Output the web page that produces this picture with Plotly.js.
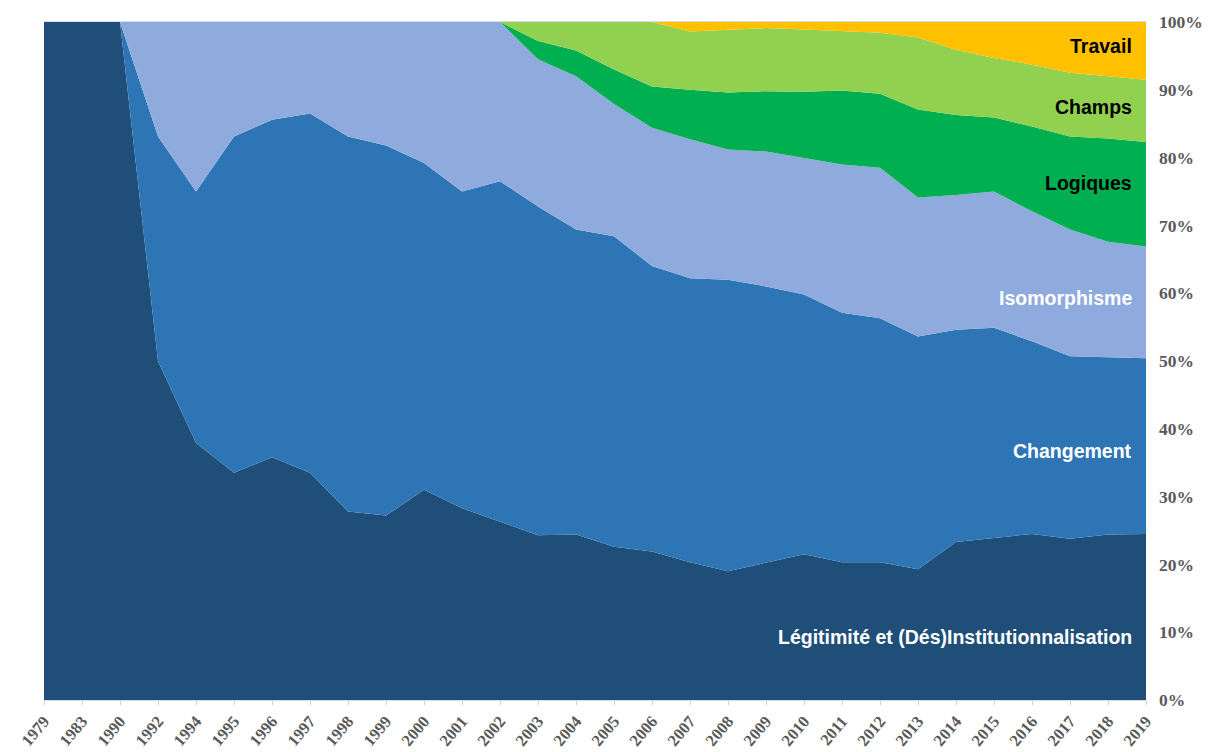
<!DOCTYPE html>
<html>
<head>
<meta charset="utf-8">
<script src="https://cdn.plot.ly/plotly-3.0.1.min.js"></script>
<style>
  html, body { margin: 0; padding: 0; background: #ffffff; }
  #chart { width: 1218px; height: 752px; }
</style>
</head>
<body>
<div id="chart"></div>
<script>
const years = ["1979","1983","1990","1992","1994","1995","1996","1997","1998","1999","2000","2001","2002","2003","2004","2005","2006","2007","2008","2009","2010","2011","2012","2013","2014","2015","2016","2017","2018","2019"];

const legitimite = [100,100,100,50,37.9,33.5,35.8,33.5,27.8,27.2,31.0,28.3,26.3,24.3,24.4,22.6,21.9,20.3,19.0,20.3,21.5,20.3,20.3,19.3,23.3,23.9,24.5,23.8,24.4,24.5];
const changement = [0,0,0,33.1,37.1,49.6,49.8,53.0,55.3,54.6,48.2,46.7,50.2,48.5,45.0,45.8,42.1,41.9,43.0,40.7,38.3,36.8,36.0,34.3,31.3,31.0,28.4,26.9,26.2,25.9];
const isomorphisme = [0,0,0,16.9,25.0,16.9,14.4,13.5,16.9,18.2,20.8,25.0,23.5,21.7,22.6,19.5,20.4,20.5,19.2,19.9,20.2,21.9,22.2,20.5,19.9,20.1,19.2,18.7,17.0,16.5];
const logiques = [0,0,0,0,0,0,0,0,0,0,0,0,0,2.7,3.8,5.1,6.1,7.3,8.4,8.9,9.7,10.9,10.9,13.0,11.8,10.9,12.5,13.7,15.2,15.4];
const champs = [0,0,0,0,0,0,0,0,0,0,0,0,0,2.8,4.2,7.0,9.5,8.6,9.3,9.3,9.2,8.8,9.0,10.6,9.6,8.8,9.1,9.4,9.2,9.2];
const travail = [0,0,0,0,0,0,0,0,0,0,0,0,0,0,0,0,0,1.4,1.1,0.9,1.1,1.3,1.6,2.3,4.1,5.3,6.3,7.5,8.0,8.5];

const seriesNames = ["Légitimité et (Dés)Institutionnalisation","Changement","Isomorphisme","Logiques","Champs","Travail"];
const seriesValues = [legitimite, changement, isomorphisme, logiques, champs, travail];
const seriesColors = ["#1F4E79","#2E75B6","#8FAADC","#00B050","#92D050","#FFC000"];
const labelColors = ["#ffffff","#ffffff","#ffffff","#000000","#000000","#000000"];
const labelY = [9.3, 36.8, 59.3, 76.2, 87.5, 96.5];
const labelTexts = ["Légitimité et (Dés)Institutionnalisation","Changement","Isomorphisme","Logiques","Champs","Travail"];

const traces = seriesNames.map((n, i) => ({
  type: "scatter",
  x: years,
  y: seriesValues[i],
  name: n,
  stackgroup: "one",
  groupnorm: i === 0 ? "percent" : undefined,
  mode: "lines",
  line: { width: 0, color: seriesColors[i], shape: "linear" },
  fillcolor: seriesColors[i],
  hoverinfo: "x+y+name"
}));

const annotations = labelTexts.map((t, i) => ({
  xref: "paper", yref: "y",
  x: 0.9891, y: labelY[i],
  xanchor: "right", yanchor: "middle",
  text: t, showarrow: false,
  font: { family: "Liberation Sans, Arial, sans-serif", size: 19.5, color: labelColors[i], weight: "bold" }
}));

const layout = {
  width: 1218, height: 752,
  margin: { l: 44, r: 72, t: 22, b: 52 },
  paper_bgcolor: "#ffffff",
  plot_bgcolor: "#ffffff",
  showlegend: false,
  xaxis: {
    type: "category",
    range: [0, 29],
    showgrid: false,
    zeroline: false,
    showline: true,
    linecolor: "#D3DCEA",
    linewidth: 1,
    mirror: true,
    ticks: "outside",
    ticklen: 4,
    tickcolor: "#D0D0D0",
    tickangle: -50,
    tickfont: { family: "Liberation Serif, Times New Roman, serif", size: 16.5, color: "#595959", weight: "bold" }
  },
  yaxis: {
    range: [0, 100],
    side: "right",
    showgrid: false,
    zeroline: false,
    showline: false,
    dtick: 10,
    tick0: 0,
    ticksuffix: "%",
    ticks: "",
    ticklabelstandoff: 12,
    tickfont: { family: "Liberation Serif, Times New Roman, serif", size: 17.5, color: "#595959", weight: "bold" }
  },
  annotations: annotations
};

Plotly.newPlot("chart", traces, layout, { displayModeBar: false, staticPlot: true });
</script>
</body>
</html>
